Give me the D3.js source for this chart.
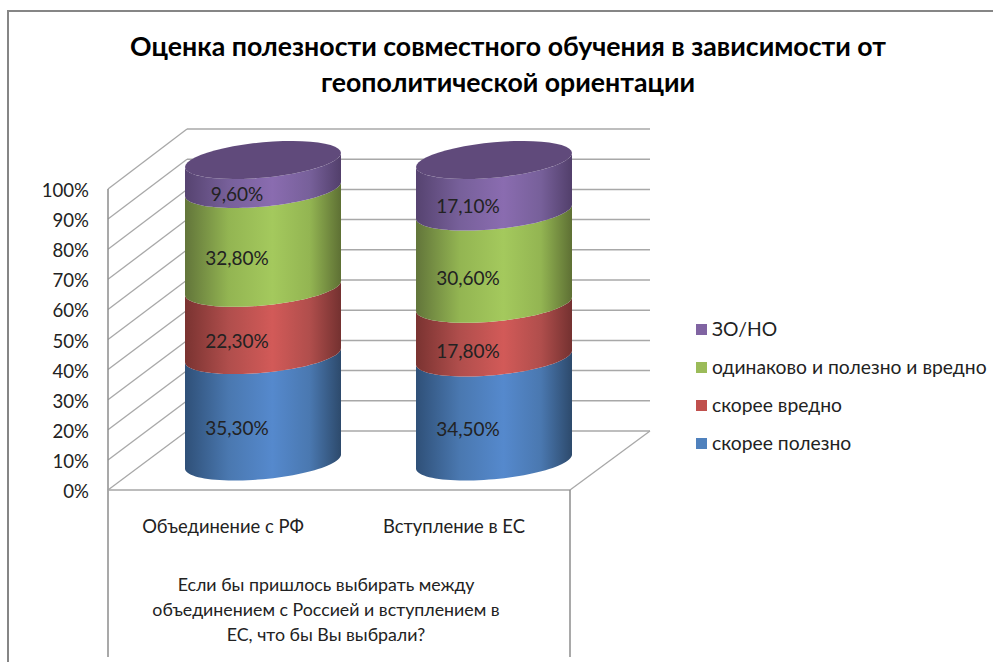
<!DOCTYPE html>
<html>
<head>
<meta charset="utf-8">
<script src="https://cdn.jsdelivr.net/npm/d3@7/dist/d3.min.js"></script>
<style>
  html, body { margin: 0; padding: 0; background: #fff; overflow: hidden; }
  text { font-family: Lato, "Open Sans", "Noto Sans", sans-serif; fill: #222; }
</style>
</head>
<body>
<script>
// stacked 3d cylinder chart, excel style
var categories = ['Объединение с РФ', 'Вступление в ЕС'];
var seriesNames = ['скорее полезно', 'скорее вредно', 'одинаково и полезно и вредно', 'ЗО/НО'];
var blueValues = [35.3, 34.5];
var redValues = [22.3, 17.8];
var greenValues = [32.8, 30.6];
var purpleValues = [9.6, 17.1];
var yTicks = [0, 10, 20, 30, 40, 50, 60, 70, 80, 90, 100];
var titleLines = ['Оценка полезности совместного обучения в зависимости от', 'геополитической ориентации'];
var axisTitleLines = ['Если бы пришлось выбирать между', 'объединением с Россией и вступлением в', 'ЕС, что бы Вы выбрали?'];

var W = 993, H = 662;
var seriesValues = [blueValues, redValues, greenValues, purpleValues];

// [edge, mid, bright, dark edge]
var ramps = [
  ['#2f5078', '#4a78b0', '#5589cd', '#2d4a6c'],
  ['#7a3331', '#b04e4c', '#d25a58', '#743130'],
  ['#62753a', '#93b552', '#a4c95d', '#5e7034'],
  ['#564370', '#77609a', '#8a6cb0', '#523f6b']
];
var legendColors = ['#4f81bd', '#c0504d', '#9bbb59', '#8064a2'];
var topColor = '#604a7b';

var svg = d3.select('body').append('svg').attr('width', W).attr('height', H);

// gradients along the cylinder width
var defs = svg.append('defs');
ramps.forEach(function(r, i){
  var g = defs.append('linearGradient').attr('id', 'ramp' + i);
  [[0, r[0]], [0.28, r[1]], [0.56, r[2]], [0.8, r[1]], [1, r[3]]].forEach(function(s){
    g.append('stop').attr('offset', s[0]).attr('stop-color', s[1]);
  });
});

// outer frame, runs off the right and bottom
svg.append('path')
  .attr('d', 'M8,' + H + 'V11H' + W)
  .attr('fill', 'none').attr('stroke', '#868686').attr('stroke-width', 2);

// scales: front wall, back wall, and the cylinder axis
var yFront = d3.scaleLinear().domain([0, 100]).range([490, 189]);
var yBack = d3.scaleLinear().domain([0, 100]).range([431, 129]);
var yCyl = d3.scaleLinear().domain([0, 100]).range([461.5, 160]);
var xFront = 108, xBack = 187, xEnd = 650, xFrontEnd = 570;
var x = d3.scalePoint().domain(categories).range([263, 494]);

var gridColor = '#a8a8a8';
var grid = svg.append('g');

// back wall lines and side wall diagonals
grid.selectAll('.back').data(yTicks).enter().append('line')
  .attr('x1', xBack).attr('x2', xEnd)
  .attr('y1', function(d){ return yBack(d); })
  .attr('y2', function(d){ return yBack(d); })
  .attr('stroke', gridColor).attr('stroke-width', 1.5);
grid.selectAll('.side').data(yTicks).enter().append('line')
  .attr('x1', xFront).attr('x2', xBack)
  .attr('y1', function(d){ return yFront(d); })
  .attr('y2', function(d){ return yBack(d); })
  .attr('stroke', gridColor).attr('stroke-width', 1.3);

// floor edges and table lines
grid.append('line').attr('x1', xFrontEnd).attr('y1', yFront(0)).attr('x2', xEnd).attr('y2', yBack(0))
  .attr('stroke', gridColor).attr('stroke-width', 1.3);
grid.append('line').attr('x1', xFront).attr('y1', yFront(100)).attr('x2', xFront).attr('y2', 657)
  .attr('stroke', '#8c8c8c').attr('stroke-width', 1.5);
grid.append('line').attr('x1', xFront).attr('y1', yFront(0)).attr('x2', xFrontEnd).attr('y2', yFront(0))
  .attr('stroke', '#a6a6a6').attr('stroke-width', 1.5);
grid.append('line').attr('x1', xFrontEnd).attr('y1', yFront(0)).attr('x2', xFrontEnd).attr('y2', 657)
  .attr('stroke', '#8c8c8c').attr('stroke-width', 1.5);

// y axis labels
svg.append('g').selectAll('text').data(yTicks).enter().append('text')
  .attr('x', 89).attr('y', function(d){ return yFront(d) + 8; })
  .attr('text-anchor', 'end').attr('font-size', 18.6)
  .text(function(d){ return d + '%'; });

// sheared ellipse used for the cylinder ends
var RX = 78, SKEW = 7, RY = 17.7;
function rim(cx, cy, t){
  return [cx + RX * Math.cos(t), cy - SKEW * Math.cos(t) + RY * Math.sin(t)];
}
function arc(cx, cy, from, to){
  return d3.range(0, 49).map(function(i){ return rim(cx, cy, from + (to - from) * i / 48); });
}
var line = d3.line();

// cylinders
categories.forEach(function(cat, c){
  var cx = x(cat), base = 0;
  seriesValues.forEach(function(vals, s){
    var top = base + vals[c];
    var pts = arc(cx, yCyl(base), 0, Math.PI).concat(arc(cx, yCyl(top), Math.PI, 0));
    svg.append('path').attr('d', line(pts) + 'Z').attr('fill', 'url(#ramp' + s + ')');
    base = top;
  });
  svg.append('path').attr('d', line(arc(cx, yCyl(base), 0, 2 * Math.PI)) + 'Z').attr('fill', topColor);
});

// value labels, excel drops them to the front of the cylinder
categories.forEach(function(cat, c){
  var base = 0;
  seriesValues.forEach(function(vals){
    var v = vals[c];
    svg.append('text')
      .attr('x', x(cat) - 26).attr('y', yCyl(base + v / 2) + 27)
      .attr('text-anchor', 'middle').attr('font-size', 19)
      .text(v.toFixed(2).replace('.', ',') + '%');
    base += v;
  });
});

// category labels
svg.append('g').selectAll('text').data(categories).enter().append('text')
  .attr('x', function(d, i){ return [223, 454][i]; }).attr('y', 533)
  .attr('text-anchor', 'middle').attr('font-size', 18.4)
  .text(function(d){ return d; });

// axis title
svg.append('g').selectAll('text').data(axisTitleLines).enter().append('text')
  .attr('x', 326).attr('y', function(d, i){ return 591 + i * 25; })
  .attr('text-anchor', 'middle').attr('font-size', 17.8)
  .text(function(d){ return d; });

// chart title
svg.append('g').selectAll('text').data(titleLines).enter().append('text')
  .attr('x', 508).attr('y', function(d, i){ return 56 + i * 36; })
  .attr('text-anchor', 'middle').attr('font-size', 26.7).attr('font-weight', 700)
  .style('fill', '#000')
  .text(function(d){ return d; });

// legend, reversed like excel does for stacked charts
var legendY = d3.scalePoint().domain(d3.range(seriesNames.length)).range([443, 329]);
var legend = svg.append('g').selectAll('g').data(seriesNames).enter().append('g')
  .attr('transform', function(d, i){ return 'translate(696,' + legendY(i) + ')'; });
legend.append('rect').attr('x', 0).attr('y', -5).attr('width', 11).attr('height', 11)
  .attr('fill', function(d, i){ return legendColors[i]; });
legend.append('text').attr('x', 16).attr('y', 6.5).attr('font-size', 19.3)
  .text(function(d){ return d; });
</script>
</body>
</html>
